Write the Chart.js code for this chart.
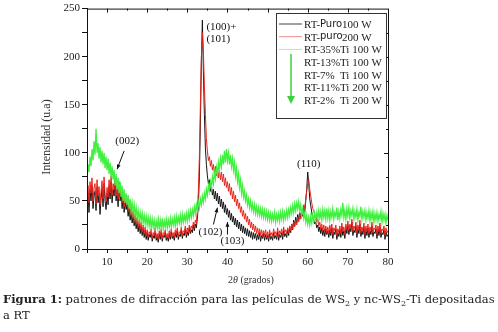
<!DOCTYPE html>
<html>
<head>
<meta charset="utf-8">
<script src="https://cdn.jsdelivr.net/npm/chart.js@4.4.1/dist/chart.umd.min.js"></script>
<style>
  body { margin: 0; background: #fff; }
  #wrap { position: relative; width: 498px; height: 332px; }
  #caption {
    position: absolute; left: 3px; top: 291px; width: 495px; white-space: nowrap;
    font-family: "DejaVu Serif", serif; font-size: 11.55px; line-height: 16px; color: #222;
  }
  #caption sub { font-size: 8px; line-height: 0; vertical-align: -3px; }
</style>
</head>
<body>
<div id="wrap">
  <canvas id="xrd" width="498" height="332"></canvas>
  <div id="caption"><b>Figura 1:</b> patrones de difracción para las películas de WS<sub>2</sub> y nc-WS<sub>2</sub>-Ti depositadas<br>a RT</div>
</div>
<script>
// 2theta positions (grados)
const twoTheta = [
  5, 5.25, 5.5, 5.75, 6, 6.25, 6.5, 6.75, 7, 7.25, 7.5, 7.75, 8, 8.25, 8.5, 8.75, 9, 9.25, 9.5, 9.75,
  10, 10.25, 10.5, 10.75, 11, 11.25, 11.5, 11.75, 12, 12.25, 12.5, 12.75, 13, 13.25, 13.5, 13.75, 14, 14.25, 14.5, 14.75,
  15, 15.25, 15.5, 15.75, 16, 16.25, 16.5, 16.75, 17, 17.25, 17.5, 17.75, 18, 18.25, 18.5, 18.75, 19, 19.25, 19.5, 19.75,
  20, 20.25, 20.5, 20.75, 21, 21.25, 21.5, 21.75, 22, 22.25, 22.5, 22.75, 23, 23.25, 23.5, 23.75, 24, 24.25, 24.5, 24.75,
  25, 25.25, 25.5, 25.75, 26, 26.25, 26.5, 26.75, 27, 27.25, 27.5, 27.75, 28, 28.25, 28.5, 28.75, 29, 29.25, 29.5, 29.75,
  30, 30.25, 30.5, 30.75, 31, 31.25, 31.5, 31.75, 32, 32.25, 32.5, 32.75, 33, 33.25, 33.5, 33.75, 34, 34.25, 34.5, 34.75,
  35, 35.25, 35.5, 35.75, 36, 36.25, 36.5, 36.75, 37, 37.25, 37.5, 37.75, 38, 38.25, 38.5, 38.75, 39, 39.25, 39.5, 39.75,
  40, 40.25, 40.5, 40.75, 41, 41.25, 41.5, 41.75, 42, 42.25, 42.5, 42.75, 43, 43.25, 43.5, 43.75, 44, 44.25, 44.5, 44.75,
  45, 45.25, 45.5, 45.75, 46, 46.25, 46.5, 46.75, 47, 47.25, 47.5, 47.75, 48, 48.25, 48.5, 48.75, 49, 49.25, 49.5, 49.75,
  50, 50.25, 50.5, 50.75, 51, 51.25, 51.5, 51.75, 52, 52.25, 52.5, 52.75, 53, 53.25, 53.5, 53.75, 54, 54.25, 54.5, 54.75,
  55, 55.25, 55.5, 55.75, 56, 56.25, 56.5, 56.75, 57, 57.25, 57.5, 57.75, 58, 58.25, 58.5, 58.75, 59, 59.25, 59.5, 59.75,
  60, 60.25, 60.5, 60.75, 61, 61.25, 61.5, 61.75, 62, 62.25, 62.5, 62.75, 63, 63.25, 63.5, 63.75, 64, 64.25, 64.5, 64.75,
  65, 65.25, 65.5, 65.75, 66, 66.25, 66.5, 66.75, 67, 67.25, 67.5, 67.75, 68, 68.25, 68.5, 68.75, 69, 69.25, 69.5, 69.75,
  70, 70.25, 70.5, 70.75, 71, 71.25, 71.5, 71.75, 72, 72.25, 72.5, 72.75, 73, 73.25, 73.5, 73.75, 74, 74.25, 74.5, 74.75,
  75, 75.25, 75.5, 75.75, 76, 76.25, 76.5, 76.75, 77, 77.25, 77.5, 77.75, 78, 78.25, 78.5, 78.75, 79, 79.25, 79.5, 79.75,
  80
];

// RT-Puro 100 W
const puro100 = [
  45, 58, 38, 62, 50, 66, 42, 55, 60, 40, 64, 48, 57, 36, 52, 63, 44, 68, 50, 41,
  58, 46, 65, 52, 70, 48, 62, 55, 73, 50, 60, 44, 66, 50, 58, 42, 54, 38, 50, 41,
  46, 34, 42, 30, 38, 27, 35, 24, 31, 21, 28, 18, 26, 16, 23, 14, 21, 12, 19, 10,
  17, 9, 15, 12, 18, 8, 14, 11, 19, 9, 13, 7, 16, 10, 18, 8, 14, 12, 17, 9,
  13, 8, 16, 10, 18, 11, 14, 9, 17, 12, 19, 10, 15, 13, 20, 11, 16, 14, 21, 12,
  18, 14, 22, 16, 20, 17, 25, 19, 26, 22, 32, 45, 75, 130, 195, 238, 185, 140, 105, 88,
  76, 68, 72, 60, 66, 56, 62, 52, 60, 50, 58, 47, 55, 44, 52, 42, 49, 38, 46, 36,
  42, 33, 40, 30, 37, 28, 34, 25, 32, 23, 30, 21, 28, 19, 26, 17, 24, 16, 22, 14,
  21, 13, 19, 12, 18, 10, 17, 11, 16, 9, 15, 10, 17, 8, 14, 11, 16, 9, 15, 10,
  14, 8, 16, 10, 13, 9, 17, 11, 14, 10, 18, 9, 15, 12, 17, 10, 19, 13, 16, 12,
  20, 14, 22, 17, 26, 20, 30, 24, 33, 27, 36, 30, 38, 32, 40, 34, 44, 38, 50, 62,
  80, 68, 52, 45, 38, 32, 30, 26, 28, 22, 25, 18, 23, 16, 22, 14, 20, 13, 21, 15,
  19, 12, 20, 14, 22, 11, 18, 15, 21, 10, 17, 13, 20, 12, 23, 14, 19, 11, 22, 16,
  25, 15, 22, 18, 28, 14, 20, 17, 24, 12, 21, 16, 26, 13, 19, 15, 23, 11, 20, 14,
  22, 12, 19, 15, 24, 13, 18, 16, 21, 11, 20, 14, 23, 12, 17, 15, 20, 10, 18, 13,
  15
];

// RT-puro 200 W
const puro200 = [
  52, 66, 48, 70, 58, 74, 50, 63, 68, 47, 72, 55, 65, 46, 60, 71, 52, 75, 57, 49,
  64, 54, 72, 58, 76, 56, 68, 62, 74, 55, 66, 52, 70, 56, 63, 48, 58, 44, 55, 46,
  50, 40, 47, 36, 44, 33, 40, 29, 37, 26, 33, 23, 30, 21, 28, 18, 25, 16, 23, 14,
  20, 13, 18, 15, 21, 11, 17, 14, 22, 12, 16, 10, 19, 13, 21, 11, 17, 15, 20, 12,
  16, 11, 19, 13, 21, 14, 17, 12, 20, 15, 22, 13, 18, 16, 23, 14, 19, 17, 24, 15,
  22, 17, 25, 19, 24, 21, 28, 23, 30, 27, 40, 60, 95, 150, 200, 225, 205, 170, 140, 115,
  102, 92, 96, 86, 92, 82, 88, 78, 86, 76, 84, 74, 82, 72, 80, 70, 78, 66, 74, 64,
  70, 60, 68, 56, 64, 52, 60, 49, 56, 45, 52, 42, 48, 38, 44, 34, 40, 31, 37, 28,
  34, 25, 31, 22, 28, 20, 26, 18, 24, 16, 22, 15, 21, 14, 20, 13, 19, 14, 20, 12,
  18, 12, 20, 14, 17, 13, 21, 15, 18, 14, 22, 13, 19, 16, 21, 14, 23, 17, 20, 16,
  22, 17, 24, 19, 26, 21, 28, 23, 30, 25, 33, 28, 36, 31, 40, 36, 46, 42, 52, 60,
  68, 72, 62, 55, 48, 42, 40, 34, 35, 28, 31, 24, 28, 21, 26, 19, 25, 18, 24, 17,
  23, 16, 25, 18, 26, 15, 22, 19, 25, 14, 21, 17, 24, 16, 27, 18, 23, 15, 26, 20,
  29, 19, 26, 22, 31, 18, 24, 21, 28, 16, 25, 20, 30, 17, 23, 19, 27, 15, 24, 18,
  26, 16, 23, 19, 28, 17, 22, 20, 25, 15, 24, 18, 27, 16, 21, 19, 24, 14, 22, 17,
  19
];

// RT-xx% Ti (green family)
const conTi = [
  72, 88, 80, 96, 86, 104, 92, 112, 98, 125, 100, 110, 94, 106, 90, 102, 88, 100, 84, 96,
  82, 94, 78, 90, 74, 86, 72, 82, 66, 78, 62, 74, 58, 70, 54, 66, 50, 62, 48, 58,
  46, 56, 42, 52, 40, 48, 37, 46, 34, 43, 32, 40, 30, 38, 29, 37, 27, 35, 26, 34,
  25, 33, 24, 32, 22, 31, 23, 30, 21, 29, 22, 31, 20, 30, 22, 32, 21, 29, 23, 31,
  22, 30, 24, 32, 23, 31, 25, 33, 24, 34, 26, 33, 27, 35, 26, 36, 28, 35, 29, 37,
  29, 38, 31, 40, 33, 41, 35, 44, 37, 46, 40, 49, 43, 52, 46, 55, 49, 58, 52, 62,
  56, 66, 60, 70, 64, 75, 68, 80, 73, 85, 78, 90, 82, 94, 86, 98, 88, 102, 90, 104,
  92, 100, 88, 98, 86, 94, 82, 90, 76, 84, 70, 78, 64, 72, 58, 66, 54, 60, 50, 56,
  46, 52, 43, 50, 41, 47, 39, 46, 37, 44, 36, 43, 35, 42, 34, 41, 33, 40, 32, 39,
  31, 38, 30, 37, 29, 36, 30, 38, 28, 36, 30, 37, 29, 38, 31, 39, 30, 38, 32, 40,
  33, 41, 35, 43, 37, 45, 38, 47, 40, 48, 42, 49, 40, 46, 36, 42, 32, 38, 28, 35,
  26, 33, 25, 34, 27, 35, 29, 37, 30, 38, 31, 40, 32, 39, 30, 41, 33, 40, 31, 42,
  32, 40, 30, 39, 33, 42, 31, 38, 34, 43, 30, 39, 32, 41, 35, 48, 33, 40, 31, 42,
  34, 43, 32, 40, 35, 42, 31, 39, 33, 41, 30, 38, 34, 44, 31, 39, 33, 40, 30, 38,
  32, 40, 29, 38, 31, 39, 28, 37, 30, 38, 29, 36, 31, 39, 28, 37, 30, 36, 27, 35,
  30
];

const legendRows = [
  ['RT-', 'Puro', '100 W'],
  ['RT-', 'puro', '200 W'],
  ['RT-35%', '', 'Ti 100 W'],
  ['RT-13%', '', 'Ti 100 W'],
  ['RT-7%', '', 'Ti 100 W'],
  ['RT-11%', '', 'Ti 200 W'],
  ['RT-2%', '', 'Ti 200 W']
];

// peak labels: [text, 2theta, intensity]
const peakLabels = [
  ['(100)+', 34.75, 231],
  ['(101)', 34.75, 218],
  ['(002)', 15, 112],
  ['(102)', 35.75, 17.5],
  ['(103)', 41.25, 8],
  ['(110)', 60.25, 88.5]
];
// arrows: [x1, y1, x2, y2] in data units (tail -> head)
const peakArrows = [
  [14.25, 102, 12.5, 83],
  [36.5, 25.5, 37.5, 43],
  [40, 15, 40, 28]
];

const serif = '"Liberation Serif", "Times New Roman", serif';
const toXY = ys => ys.map((y, i) => ({ x: twoTheta[i], y: y }));

const extras = {
  id: 'extras',
  afterDatasetsDraw(chart) {
    const c = chart.ctx, a = chart.chartArea;
    const xs = chart.scales.x, ys = chart.scales.y;
    c.save();
    // frame + inner ticks on top/right
    c.strokeStyle = '#111';
    c.lineWidth = 1;
    c.strokeRect(a.left + 0.5, a.top + 0.5, a.right - a.left, a.bottom - a.top);
    c.beginPath();
    for (let v = 10; v <= 75; v += 5) {
      const px = Math.round(xs.getPixelForValue(v)) + 0.5;
      c.moveTo(px, a.top); c.lineTo(px, a.top + (v % 10 === 0 ? 4 : 2));
    }
    for (let v = 25; v < 250; v += 25) {
      const py = Math.round(ys.getPixelForValue(v)) + 0.5;
      c.moveTo(a.right, py); c.lineTo(a.right - (v % 50 === 0 ? 4 : 2), py);
    }
    c.stroke();

    // peak labels
    c.fillStyle = '#111';
    c.font = '11px ' + serif;
    c.textBaseline = 'middle';
    peakLabels.forEach(p => {
      c.textAlign = p[0].startsWith('(10') && p[1] < 35 ? 'left' : 'center';
      c.fillText(p[0], xs.getPixelForValue(p[1]), ys.getPixelForValue(p[2]));
    });
    peakArrows.forEach(ar => {
      const x1 = xs.getPixelForValue(ar[0]), y1 = ys.getPixelForValue(ar[1]);
      const x2 = xs.getPixelForValue(ar[2]), y2 = ys.getPixelForValue(ar[3]);
      const ang = Math.atan2(y2 - y1, x2 - x1);
      c.beginPath(); c.moveTo(x1, y1); c.lineTo(x2, y2); c.stroke();
      c.beginPath();
      c.moveTo(x2, y2);
      c.lineTo(x2 - 5 * Math.cos(ang - 0.4), y2 - 5 * Math.sin(ang - 0.4));
      c.lineTo(x2 - 5 * Math.cos(ang + 0.4), y2 - 5 * Math.sin(ang + 0.4));
      c.closePath(); c.fill();
    });

    // axis titles
    c.font = '12px ' + serif;
    c.textAlign = 'center';
    c.fillStyle = '#333';
    c.save();
    c.translate(47, 137);
    c.rotate(-Math.PI / 2);
    c.fillText('Intensidad (u.a)', 0, 0);
    c.restore();
    c.font = '10px ' + serif;
    c.textAlign = 'left';
    const tw = c.measureText('2').width;
    c.fillText('2', 228, 280);
    c.font = 'italic 10px ' + serif;
    const thw = c.measureText('θ').width;
    c.fillText('θ', 228 + tw, 280);
    c.font = '10px ' + serif;
    c.fillText(' (grados)', 228 + tw + thw, 280);

    // legend box
    c.fillStyle = '#fff';
    c.fillRect(276, 13, 110, 105);
    c.strokeStyle = '#333';
    c.strokeRect(276.5, 13.5, 110, 105);
    const sampleCol = ['#444', '#f08a8a', '#a8f0a8'];
    legendRows.forEach((r, i) => {
      const y = 24 + i * 12.7;
      if (i < 3) {
        c.strokeStyle = sampleCol[i];
        c.beginPath(); c.moveTo(279, y); c.lineTo(302, y); c.stroke();
      }
      c.fillStyle = '#222';
      c.font = '11px ' + serif;
      c.fillText(r[0], 304, y + 1);
      if (r[1]) {
        c.font = '10px "DejaVu Sans", sans-serif';
        c.fillText(r[1], 320, y);
        c.font = '11px ' + serif;
        c.fillText(r[2], 342, y + 1);
      } else {
        c.fillText(r[2], 340, y + 1);
      }
    });
    // green arrow down the Ti rows
    c.strokeStyle = '#3ecf3e';
    c.fillStyle = '#3ecf3e';
    c.lineWidth = 1.5;
    c.beginPath(); c.moveTo(291, 54); c.lineTo(291, 97); c.stroke();
    c.beginPath(); c.moveTo(287, 96); c.lineTo(295, 96); c.lineTo(291, 104); c.closePath(); c.fill();
    c.restore();
  }
};

new Chart(document.getElementById('xrd'), {
  type: 'line',
  data: {
    datasets: [
      { label: 'RT-Puro 100 W', data: toXY(puro100), borderColor: '#151515', borderWidth: 1, order: 3 },
      { label: 'RT-puro 200 W', data: toXY(puro200), borderColor: '#e8261e', borderWidth: 1, order: 2 },
      { label: 'RT-Ti', data: toXY(conTi), borderColor: '#3ff03f', borderWidth: 1.3, order: 1 }
    ]
  },
  options: {
    responsive: false,
    animation: false,
    events: [],
    elements: { point: { radius: 0 }, line: { tension: 0 } },
    layout: { padding: { left: 0, right: 110, top: 6, bottom: 0 } },
    plugins: { legend: { display: false }, tooltip: { enabled: false } },
    scales: {
      x: {
        type: 'linear', min: 5, max: 80,
        afterFit: s => { s.height = 83; },
        border: { color: '#111' },
        grid: { drawOnChartArea: false, tickLength: 4, color: '#111' },
        ticks: {
          stepSize: 5, autoSkip: false, maxRotation: 0, padding: 3, color: '#222',
          font: { family: serif, size: 11 },
          callback: v => (v % 10 === 0 ? v : '')
        }
      },
      y: {
        min: 0, max: 250,
        afterFit: s => { s.width = 87; },
        border: { color: '#111' },
        grid: { drawOnChartArea: false, tickLength: 5, color: '#111' },
        ticks: {
          stepSize: 25, autoSkip: false, padding: 2, color: '#222',
          font: { family: serif, size: 11 },
          callback: v => (v % 50 === 0 ? v : '')
        }
      }
    }
  },
  plugins: [extras]
});
</script>
</body>
</html>
